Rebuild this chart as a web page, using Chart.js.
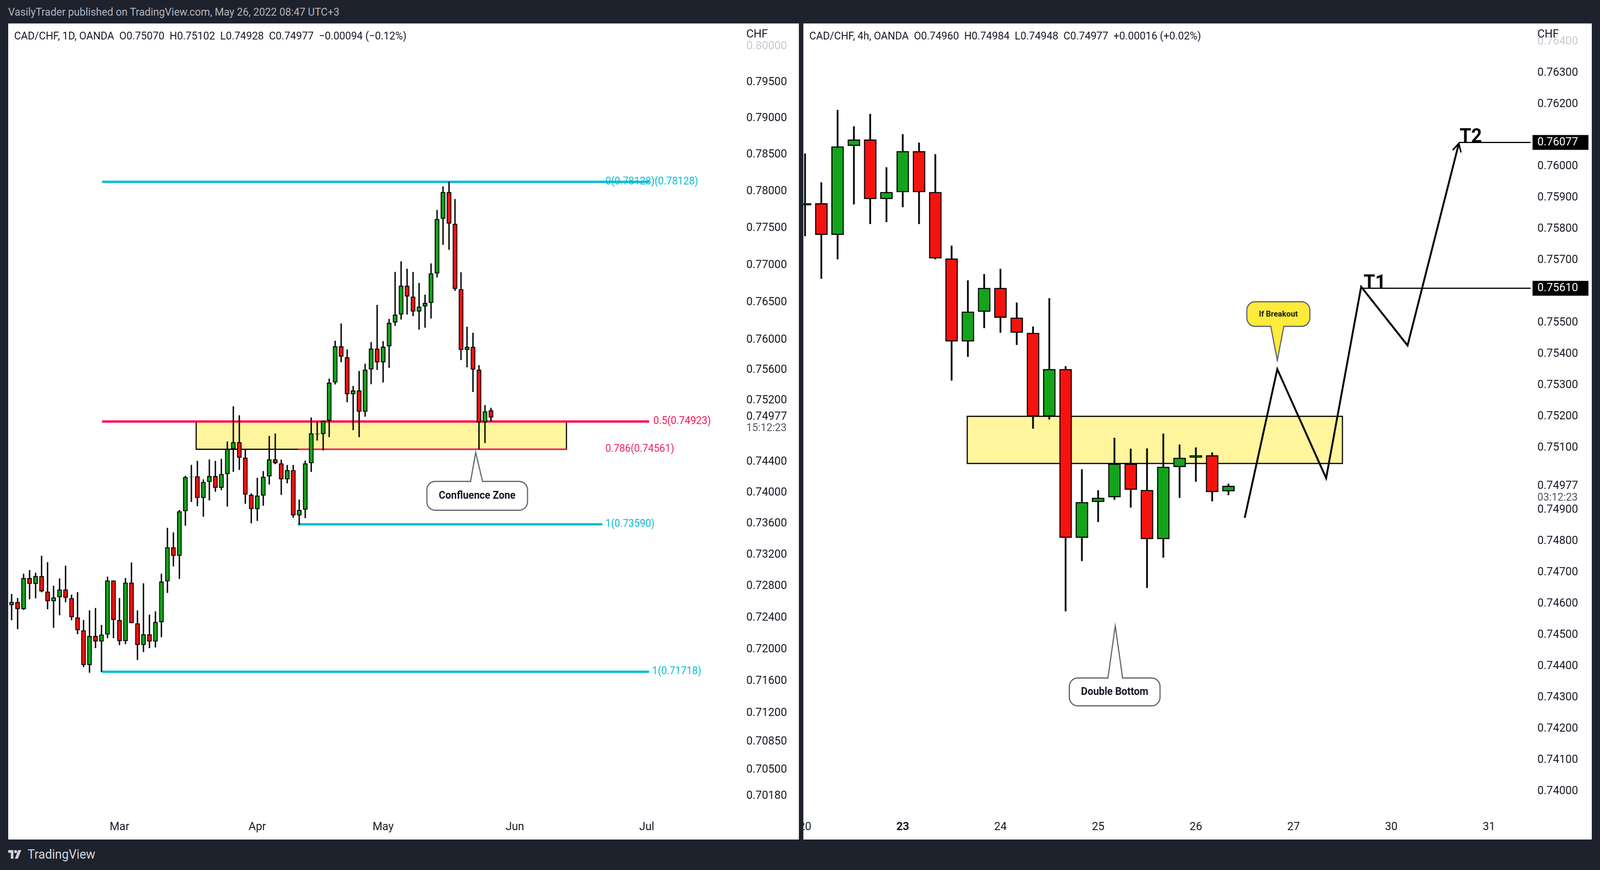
<!DOCTYPE html>
<html lang="en">
<head>
<meta charset="UTF-8">
<title>CAD/CHF</title>
<script src="https://cdn.jsdelivr.net/npm/chart.js"></script>
<style>
  html, body { margin: 0; padding: 0; overflow: hidden; background: #1e222d; }
  #page { width: 4292px; height: 2226px; background: #1e222d; position: absolute; left: 0; top: 0;
          transform-origin: 0 0; overflow: hidden; font-family: Roboto, sans-serif; }
  .panel { position: absolute; top: 60px; height: 2088px; background: #fff; }
  #top { position: absolute; left: 22px; top: 14px; color: #b2b5be; font-size: 28px; }
  #foot { position: absolute; left: 22px; top: 2166px; color: #d1d4dc; font-size: 33px; display: flex; align-items: center; gap: 12px; }
</style>
</head>
<body>
<div id="page">
<div id="top">VasilyTrader published on TradingView.com, May 26, 2022 08:47 UTC+3</div>
<div class="panel" style="left:22px;width:2121px"><canvas id="left" width="2121" height="2088"></canvas></div>
<div class="panel" style="left:2155px;width:2115px"><canvas id="right" width="2115" height="2088"></canvas></div>
<div id="foot">
  <svg width="40" height="26" viewBox="0 0 40 26"><path d="M0 2H14V24H7V9H0Z M18 24L27 2H35L26 24Z" fill="#d1d4dc"/><circle cx="20" cy="6" r="4" fill="#d1d4dc"/></svg>
  <span>TradingView</span>
</div>
</div>

<script>
// fit the fixed-size page to whatever viewport we get
const page = document.getElementById('page');
page.style.transform = 'scale(' + (window.innerWidth / 4292) + ',' + (window.innerHeight / 2226) + ')';

// daily CAD/CHF
const leftOpen  = [.72558,.72596,.72507,.72900,.72828,.72925,.72729,.72608,.72659,.72755,
  .72646,.72401,.72237,.71803,.72167,.72099,.72187,.72869,.72368,.72104,
  .72843,.72326,.72054,.72187,.72099,.72343,.72861,.73294,.73187,.73760,
  .74201,.74207,.73931,.74137,.74212,.74062,.74240,.74564,.74652,.74450,
  .73969,.73786,.73962,.74208,.74428,.74376,.74172,.74289,.73706,.73779,
  .74381,.74757,.74760,.74935,.75439,.75913,.75770,.75283,.75330,.75053,
  .75610,.75884,.75704,.75916,.76233,.76339,.76721,.76575,.76379,.76446,
  .76494,.76889,.77627,.77988,.77556,.76676,.75867,.75907,.75603,.74914,.75070];
const leftHigh  = [.72697,.72646,.72956,.73002,.72968,.73185,.73103,.72803,.72897,.73057,
  .72689,.72722,.72368,.72489,.72520,.72305,.72918,.72869,.72646,.72900,
  .73098,.72489,.72833,.72436,.72477,.72956,.73543,.73484,.73773,.74214,
  .74357,.74409,.74168,.74427,.74409,.74435,.74660,.75122,.75004,.74564,
  .73987,.74188,.74276,.74734,.74765,.74425,.74355,.74355,.73907,.74412,
  .74974,.74917,.74935,.75486,.75987,.76215,.75871,.75389,.75586,.75683,
  .75969,.76465,.75982,.76278,.76906,.77049,.76949,.76906,.76759,.76601,
  .77020,.77743,.78064,.78129,.77892,.76902,.76173,.76093,.75663,.75137,.75102];
const leftLow   = [.72368,.72255,.72500,.72633,.72646,.72722,.72507,.72272,.72431,.72596,
  .72368,.72192,.71778,.71707,.72016,.71715,.72142,.72142,.72054,.72066,
  .72331,.71866,.71966,.72016,.72024,.72154,.72714,.73052,.72892,.73573,
  .73879,.73825,.73689,.73899,.74011,.74032,.73820,.74268,.74294,.73856,
  .73604,.73635,.73830,.74105,.74368,.73970,.74120,.73676,.73585,.73670,
  .74268,.74676,.74546,.74721,.75412,.75705,.75178,.74812,.74721,.74988,
  .75415,.75604,.75439,.75631,.76188,.76272,.76339,.76318,.76138,.76164,
  .76287,.76835,.77274,.77209,.76655,.75734,.75637,.75313,.74565,.74644,.74928];
const leftClose = [.72596,.72507,.72900,.72828,.72925,.72734,.72608,.72654,.72755,.72651,
  .72406,.72242,.71803,.72167,.72099,.72184,.72869,.72373,.72104,.72843,
  .72331,.72054,.72187,.72099,.72343,.72856,.73294,.73187,.73755,.74199,
  .74204,.73931,.74134,.74212,.74062,.74238,.74564,.74652,.74453,.73974,
  .73786,.73959,.74203,.74428,.74381,.74172,.74289,.73706,.73774,.74376,
  .74768,.74763,.74931,.75433,.75913,.75778,.75283,.75330,.75053,.75604,
  .75884,.75704,.75908,.76225,.76334,.76721,.76580,.76379,.76441,.76491,
  .76886,.77621,.77988,.77561,.76682,.75867,.75907,.75608,.74914,.75055,.74977];
const leftTicks = [0.8, 0.795, 0.79, 0.785, 0.78, 0.775, 0.77, 0.765, 0.76, 0.756, 0.752,
  0.744, 0.74, 0.736, 0.732, 0.728, 0.724, 0.72, 0.716, 0.712, 0.7085, 0.705, 0.7018];
const leftDateAt = [18, 41, 62, 84, 106];
const leftDates  = ['Mar', 'Apr', 'May', 'Jun', 'Jul'];

// 4h CAD/CHF
const rightOpen  = [.75876,.75882,.75781,.76066,.76086,.75896,.75918,.76049,.75918,.75705,.75440,.75535,.75611,.75516,
  .75467,.75200,.75351,.74811,.74926,.74941,.75048,.74964,.74807,.75038,.75068,.75075,.74960];
const rightHigh  = [.76041,.75949,.76181,.76128,.76168,.75997,.76103,.76076,.76039,.75746,.75635,.75655,.75672,.75564,
  .75487,.75578,.75360,.75030,.74963,.75131,.75096,.75097,.75144,.75109,.75100,.75084,.74984];
const rightLow   = [.75777,.75641,.75703,.75879,.75816,.75822,.75870,.75816,.75703,.75315,.75391,.75483,.75468,.75429,
  .75161,.75190,.74576,.74737,.74862,.74933,.74908,.74651,.74748,.74939,.74991,.74928,.74948];
const rightClose = [.75882,.75781,.76064,.76086,.75896,.75918,.76049,.75918,.75706,.75440,.75535,.75611,.75516,.75468,
  .75200,.75351,.74811,.74925,.74939,.75048,.74965,.74807,.75038,.75067,.75075,.74958,.74977];
const rightTicks = [0.764, 0.763, 0.762, 0.760, 0.759, 0.758, 0.757, 0.755, 0.754, 0.753, 0.752, 0.751,
  0.749, 0.748, 0.747, 0.746, 0.745, 0.744, 0.743, 0.742, 0.741, 0.740];
const rightDateAt = [0, 6, 12, 18, 24, 30, 36, 42];
const rightDates  = ['20', '23', '24', '25', '26', '27', '30', '31'];

// projected path and targets (4h)
const pathAt    = [27, 29, 32, 34.15, 37, 40.15];
const pathPrice = [0.74875, 0.75351, 0.75002, 0.75615, 0.75427, 0.76074];
const target1 = 0.75610, target2 = 0.76077;

const UP = '#13a41b', DOWN = '#f5130f', INK = '#131722';

function candleSets(O, H, L, C, bodyW, wickW, bw) {
  const idx = O.map((_, i) => i);
  return [
    { data: idx.map(i => ({ x: i, y: [L[i], H[i]] })), backgroundColor: '#000',
      barThickness: wickW, grouped: false, order: 2 },
    { data: idx.map(i => ({ x: i, y: [O[i], C[i]] })),
      backgroundColor: idx.map(i => C[i] >= O[i] ? UP : DOWN),
      borderColor: '#000', borderWidth: bw, borderSkipped: false,
      barThickness: bodyW, grouped: false, order: 1 }
  ];
}

function hline(ch, a, b, p, color, w) {
  const c = ch.ctx, x = ch.scales.x, y = ch.scales.y;
  c.save(); c.strokeStyle = color; c.lineWidth = w;
  c.beginPath(); c.moveTo(x.getPixelForValue(a), y.getPixelForValue(p));
  c.lineTo(b == null ? ch.chartArea.right : x.getPixelForValue(b), y.getPixelForValue(p)); c.stroke(); c.restore();
}
function zone(ch, a, b, p0, p1, w) {
  const c = ch.ctx, x = ch.scales.x, y = ch.scales.y;
  const x0 = x.getPixelForValue(a), x1 = x.getPixelForValue(b);
  const y0 = y.getPixelForValue(p1), y1 = y.getPixelForValue(p0);
  c.save(); c.fillStyle = '#fff59d'; c.fillRect(x0, y0, x1 - x0, y1 - y0);
  c.strokeStyle = '#000'; c.lineWidth = w; c.strokeRect(x0, y0, x1 - x0, y1 - y0); c.restore();
}
function label(ch, at, p, txt, color, size, bold, align, base) {
  const c = ch.ctx;
  c.save(); c.fillStyle = color; c.font = (bold ? 'bold ' : '') + size + 'px Roboto, sans-serif';
  c.textAlign = align || 'left'; c.textBaseline = base || 'middle';
  c.fillText(txt, ch.scales.x.getPixelForValue(at), ch.scales.y.getPixelForValue(p)); c.restore();
}
function callout(ch, a, b, pTop, pBot, tipAt, tipP, baseA, baseB, txt, fill, size, up) {
  const c = ch.ctx, x = ch.scales.x, y = ch.scales.y;
  const x0 = x.getPixelForValue(a), x1 = x.getPixelForValue(b);
  const y0 = y.getPixelForValue(pTop), y1 = y.getPixelForValue(pBot);
  const tx = x.getPixelForValue(tipAt), ty = y.getPixelForValue(tipP);
  const ba = x.getPixelForValue(baseA), bb = x.getPixelForValue(baseB);
  const by = up ? y0 : y1;
  c.save(); c.lineWidth = 3; c.strokeStyle = '#5d606b'; c.fillStyle = fill;
  c.beginPath(); c.roundRect(x0, y0, x1 - x0, y1 - y0, 22); c.fill(); c.stroke();
  c.beginPath(); c.moveTo(ba, by); c.lineTo(tx, ty); c.lineTo(bb, by); c.closePath(); c.fill();
  c.beginPath(); c.moveTo(ba, by); c.lineTo(tx, ty); c.lineTo(bb, by); c.stroke();
  c.fillRect(ba + 2, by - 2, bb - ba - 4, 6);
  c.fillStyle = INK; c.font = 'bold ' + size + 'px Roboto, sans-serif';
  c.textAlign = 'center'; c.textBaseline = 'middle';
  c.fillText(txt, (x0 + x1) / 2, (y0 + y1) / 2 + 1); c.restore();
}
function axisText(ch, ticks, dateAt, dates, boldIdx, legend, extra) {
  const c = ch.ctx, a = ch.chartArea, x = ch.scales.x, y = ch.scales.y;
  c.save(); c.font = '30px Roboto, sans-serif'; c.textBaseline = 'middle'; c.textAlign = 'left';
  ticks.forEach((v, i) => {
    c.fillStyle = i === 0 ? '#c8cad0' : INK;
    c.fillText(v.toFixed(5), a.right + 18, y.getPixelForValue(v));
  });
  c.fillStyle = INK; c.fillText('CHF', a.right + 18, 28);
  c.textAlign = 'center';
  dates.forEach((d, i) => {
    c.font = (i === boldIdx ? 'bold ' : '') + '30px Roboto, sans-serif';
    c.fillText(d, x.getPixelForValue(dateAt[i]), a.bottom + 36);
  });
  c.textAlign = 'left'; c.font = '28px Roboto, sans-serif';
  c.fillText(legend, 16, 34);
  extra(c, a, y);
  c.restore();
}

const base = (minX, maxX, yType, minY, maxY, padR) => ({
  type: 'bar',
  options: {
    responsive: false, animation: false, devicePixelRatio: 1,
    layout: { padding: { right: padR, bottom: 68 } },
    plugins: { legend: { display: false }, tooltip: { enabled: false } },
    scales: {
      x: { type: 'linear', min: minX, max: maxX, offset: false, display: false },
      y: { type: yType, min: minY, max: maxY, display: false }
    }
  }
});

// left chart
const lc = base(-0.57, 121.5, 'logarithmic', 0.69970, 0.80321, 159);
lc.data = { datasets: candleSets(leftOpen, leftHigh, leftLow, leftClose, 12, 3, 2.5) };
lc.plugins = [{
  id: 'leftDraw',
  beforeDatasetsDraw(ch) {
    zone(ch, 30.8, 92.6, 0.74561, 0.74923, 3);
    hline(ch, 15.1, 106.4, 0.78128, '#00bcd4', 6);
    hline(ch, 15.1, 106.4, 0.74923, '#ff0a50', 6);
    hline(ch, 47.8, 92.6, 0.74561, '#e91e63', 4);
    hline(ch, 47.8, 98.6, 0.73590, '#00bcd4', 6);
    hline(ch, 15.1, 106.4, 0.71718, '#00bcd4', 6);
  },
  afterDatasetsDraw(ch) {
    label(ch, 99.1, 0.78128, '0(0.78128)(0.78128)', '#00bcd4', 27);
    label(ch, 107.1, 0.74923, '0.5(0.74923)', '#ff0a50', 27);
    label(ch, 99.1, 0.74561, '0.786(0.74561)', '#e91e63', 27);
    label(ch, 99.1, 0.73590, '1(0.73590)', '#00bcd4', 27);
    label(ch, 106.9, 0.71718, '1(0.71718)', '#00bcd4', 27);
    callout(ch, 69.3, 86.1, 0.74144, 0.73771, 77.45, 0.74519, 76.6, 78.6, 'Confluence Zone', '#fff', 27, true);
    axisText(ch, leftTicks, leftDateAt, leftDates, -1,
      'CAD/CHF, 1D, OANDA  O0.75070  H0.75102  L0.74928  C0.74977  \u22120.00094 (\u22120.12%)',
      (c, a, y) => {
        c.fillStyle = INK; c.font = '30px Roboto, sans-serif';
        const yy = y.getPixelForValue(0.74977);
        c.fillText('0.74977', a.right + 18, yy - 2);
        c.fillStyle = '#50535e'; c.font = '28px Roboto, sans-serif';
        c.fillText('15:12:23', a.right + 18, yy + 28);
      });
  }
}];
new Chart(document.getElementById('left'), lc);

// right chart
const rc = base(-0.103, 44.56, 'linear', 0.73930, 0.76458, 164);
rc.data = { datasets: candleSets(rightOpen, rightHigh, rightLow, rightClose, 33, 4, 3) };
rc.plugins = [{
  id: 'rightDraw',
  beforeDatasetsDraw(ch) {
    zone(ch, 9.96, 33.0, 0.75049, 0.75200, 3);
  },
  afterDatasetsDraw(ch) {
    const c = ch.ctx, x = ch.scales.x, y = ch.scales.y;
    hline(ch, 34.15, null, target1, '#000', 3);
    hline(ch, 40.15, null, target2, '#000', 3);
    c.save(); c.strokeStyle = '#000'; c.lineWidth = 5; c.lineJoin = 'miter';
    c.beginPath();
    pathAt.forEach((t, i) => {
      const px = x.getPixelForValue(t), py = y.getPixelForValue(pathPrice[i]);
      i ? c.lineTo(px, py) : c.moveTo(px, py);
    });
    c.stroke();
    const n = pathAt.length - 1;
    const ex = x.getPixelForValue(pathAt[n]), ey = y.getPixelForValue(pathPrice[n]);
    const sx = x.getPixelForValue(pathAt[n - 1]), sy = y.getPixelForValue(pathPrice[n - 1]);
    const ang = Math.atan2(ey - sy, ex - sx);
    c.lineWidth = 4; c.beginPath();
    c.moveTo(ex - 24 * Math.cos(ang - 0.5), ey - 24 * Math.sin(ang - 0.5)); c.lineTo(ex, ey);
    c.lineTo(ex - 24 * Math.cos(ang + 0.5), ey - 24 * Math.sin(ang + 0.5)); c.stroke();
    c.restore();
    label(ch, 34.3, target1, 'T1', '#000', 50, true, 'left', 'alphabetic');
    label(ch, 40.2, target2, 'T2', '#000', 50, true, 'left', 'alphabetic');
    callout(ch, 27.13, 31.0, 0.75567, 0.75488, 29.0, 0.75379, 28.6, 29.4, 'If Breakout', '#ffeb3b', 21, false);
    callout(ch, 16.23, 21.8, 0.74362, 0.74273, 19.05, 0.74529, 18.6, 19.5, 'Double Bottom', '#fff', 27, true);
    axisText(ch, rightTicks, rightDateAt, rightDates, 1,
      'CAD/CHF, 4h, OANDA  O0.74960  H0.74984  L0.74948  C0.74977  +0.00016 (+0.02%)',
      (c, a, y) => {
        [target1, target2].forEach(v => {
          const yy = y.getPixelForValue(v);
          c.fillStyle = '#000'; c.fillRect(a.right + 5, yy - 19, 150, 38);
          c.fillStyle = '#fff'; c.font = '30px Roboto, sans-serif';
          c.fillText(v.toFixed(5), a.right + 18, yy);
        });
        c.fillStyle = INK; c.font = '30px Roboto, sans-serif';
        const yy = y.getPixelForValue(0.74977);
        c.fillText('0.74977', a.right + 18, yy);
        c.fillStyle = '#50535e'; c.font = '28px Roboto, sans-serif';
        c.fillText('03:12:23', a.right + 18, yy + 31);
      });
  }
}];
new Chart(document.getElementById('right'), rc);
</script>
</body>
</html>
